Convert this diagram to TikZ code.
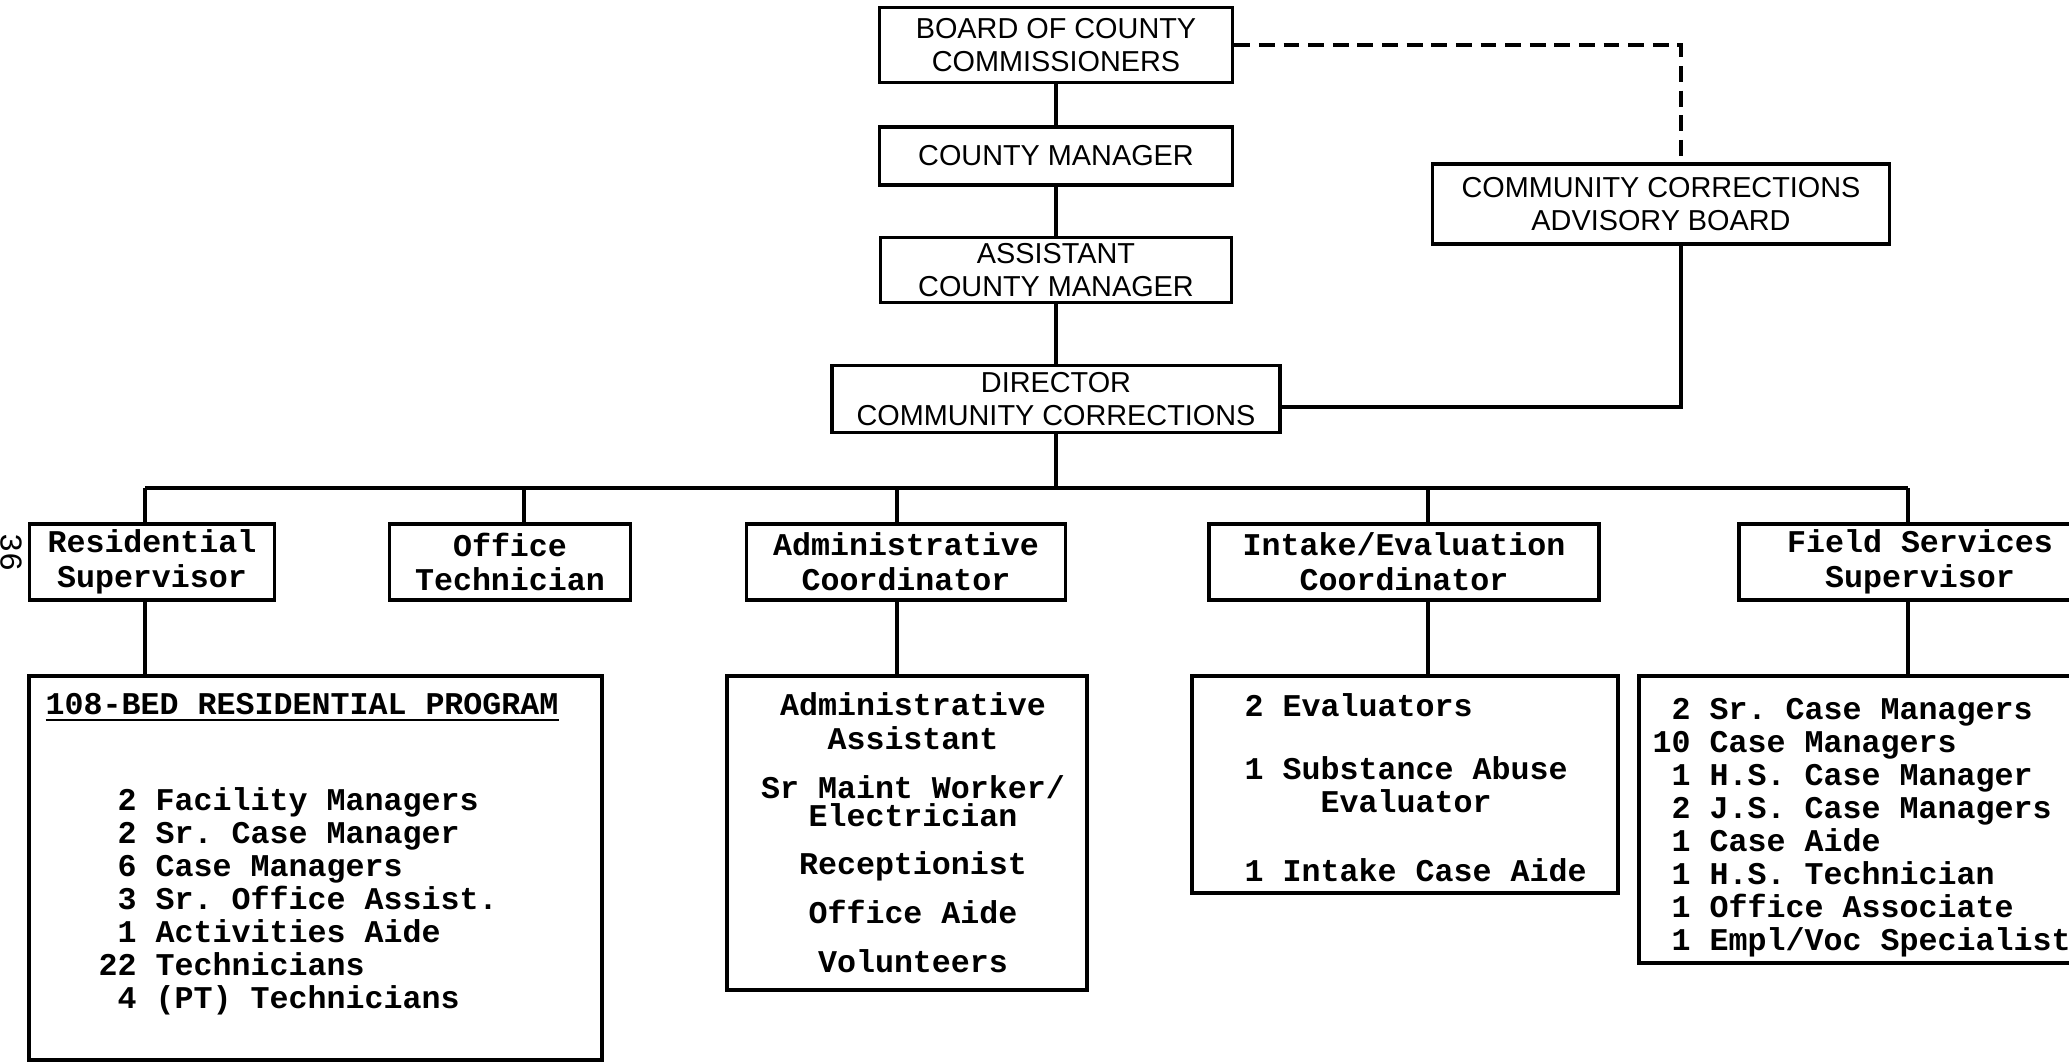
\documentclass[tikz,border=0pt]{standalone}
\usepackage{fontspec}
\setmonofont{Liberation Mono}
\newfontfamily\capsfont{Liberation Sans}
\usetikzlibrary{positioning, calc}

\tikzset{
  topbox/.style={draw, line width=1pt, inner sep=0pt, align=center, font=\capsfont\fontsize{8.2}{9.4}\selectfont},
  unitbox/.style={draw, line width=1pt, inner sep=0pt, align=center, minimum height=0.76cm, font=\ttfamily\bfseries\fontsize{9}{9.9}\selectfont},
  listbox/.style={draw, line width=1pt, inner sep=0pt},
  listtext/.style={inner sep=0pt, font=\ttfamily\bfseries\fontsize{9}{9.4}\selectfont},
  link/.style={line width=0.9pt}
}

\begin{document}
\begin{tikzpicture}[x=0.01cm, y=-0.01cm]
\useasboundingbox (0,0) rectangle (2069,1063);

% Top of the chain
\node[topbox, minimum width=3.53cm, minimum height=0.75cm] (board) at (1056,45) {BOARD OF COUNTY\\COMMISSIONERS};
\node[topbox, minimum width=3.53cm, minimum height=0.58cm] (cm) at (1056,156) {COUNTY MANAGER};
\node[topbox, minimum width=3.51cm, minimum height=0.65cm] (acm) at (1056,270) {ASSISTANT\\COUNTY MANAGER};
\node[topbox, minimum width=4.48cm, minimum height=0.67cm] (dir) at (1056,399) {DIRECTOR\\COMMUNITY CORRECTIONS};
\node[topbox, minimum width=4.57cm, minimum height=0.80cm] (adv) at (1661,204) {COMMUNITY CORRECTIONS\\ADVISORY BOARD};

\draw[link] (board.south) -- (cm.north);
\draw[link] (cm.south) -- (acm.north);
\draw[link] (acm.south) -- (dir.north);
\draw[link, dash pattern=on 4.5pt off 2.5pt] (board.east) -| ($(adv.north)+(20,0)$);
\draw[link] ($(dir.east)+(0,8)$) -| ($(adv.south)+(20,0)$);

% Units
\node[unitbox, minimum width=2.45cm] (rs) at (152,562) {Residential\\Supervisor};
\node[unitbox, minimum width=2.41cm] (ot) at (510,562) {Office\\Technician};
\node[unitbox, minimum width=3.19cm] (ac) at (906,562) {Administrative\\Coordinator};
\node[unitbox, minimum width=3.90cm] (ie) at (1404,562) {Intake/Evaluation\\Coordinator};
\node[unitbox, minimum width=3.62cm] (fs) at (1920,562) {Field Services\\Supervisor};
\node[rotate=-90, inner sep=0pt, font=\ttfamily\fontsize{9}{9}\selectfont] (pagenum) at (11,552) {36};

% Bus
\coordinate (jres) at (145,488);
\coordinate (joff) at (524,488);
\coordinate (jadm) at (897,488);
\coordinate (jint) at (1428,488);
\coordinate (jfld) at (1908,488);
\draw[link] (dir.south) -- (dir.south |- jres);
\draw[link] (jres) -- (jfld);
\draw[link] (jres) -- (jres |- rs.north);
\draw[link] (joff) -- (joff |- ot.north);
\draw[link] (jadm) -- (jadm |- ac.north);
\draw[link] (jint) -- (jint |- ie.north);
\draw[link] (jfld) -- (jfld |- fs.north);

% Staff boxes
\node[listbox, minimum width=5.73cm, minimum height=3.84cm] (resbox) at (315.5,868) {};
\node[listbox, minimum width=3.60cm, minimum height=3.14cm] (admbox) at (907,833) {};
\node[listbox, minimum width=4.26cm, minimum height=2.17cm] (intbox) at (1405,784.5) {};
\node[listbox, minimum width=4.50cm, minimum height=2.87cm] (fldbox) at (1864,819.5) {};

\draw[link] (jres |- rs.south) -- (jres |- resbox.north);
\draw[link] (jadm |- ac.south) -- (jadm |- admbox.north);
\draw[link] (jint |- ie.south) -- (jint |- intbox.north);
\draw[link] (jfld |- fs.south) -- (jfld |- fldbox.north);

\node[listtext, anchor=west] (restitle) at (45,708) {\underline{108-BED RESIDENTIAL PROGRAM}};
\node[listtext, anchor=west, align=left] (reslist) at (98,901.5) {\phantom{2}2 Facility Managers\\\phantom{2}2 Sr. Case Manager\\\phantom{2}6 Case Managers\\\phantom{2}3 Sr. Office Assist.\\\phantom{2}1 Activities Aide\\22 Technicians\\\phantom{2}4 (PT) Technicians};
\node[listtext, align=center] (admlist) at (913,833) {Administrative\\Assistant\\[4.6pt]Sr Maint Worker/\\[-1.5pt]Electrician\\[4.3pt]Receptionist\\[4.6pt]Office Aide\\[4.6pt]Volunteers};
\node[listtext, anchor=west, align=left] (intlist) at (1244,788) {2 Evaluators\\[8.5pt]1 Substance Abuse\\\phantom{1 Su}Evaluator\\[10.2pt]1 Intake Case Aide};
\node[listtext, anchor=west, align=left] (fldlist) at (1652,827.5) {\phantom{1}2 Sr. Case Managers\\10 Case Managers\\\phantom{1}1 H.S. Case Manager\\\phantom{1}2 J.S. Case Managers\\\phantom{1}1 Case Aide\\\phantom{1}1 H.S. Technician\\\phantom{1}1 Office Associate\\\phantom{1}1 Empl/Voc Specialist};
\end{tikzpicture}
\end{document}
